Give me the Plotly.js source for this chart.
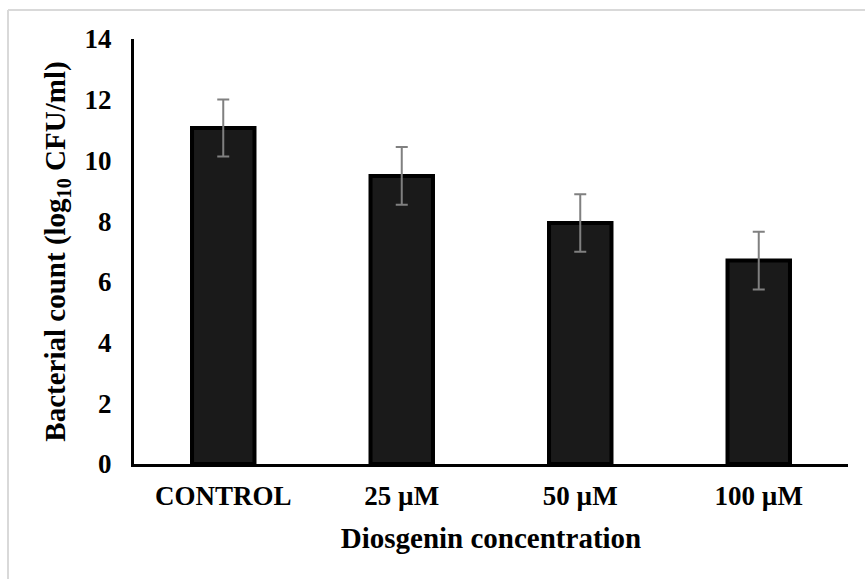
<!DOCTYPE html>
<html>
<head>
<meta charset="utf-8">
<script src="https://cdn.plot.ly/plotly-3.0.1.min.js"></script>
<style>html,body{margin:0;padding:0;background:#fff;}#chart{width:865px;height:579px;}</style>
</head>
<body>
<div id="chart"></div>
<script>
const categories = ["CONTROL", "25 µM", "50 µM", "100 µM"];
const counts = [11.07, 9.49, 7.94, 6.70];
const errors = [0.94, 0.95, 0.95, 0.95];

const W = 865, H = 579;
const L = 134, R = 17, T = 39, B = 115;
const pw = W - L - R, ph = H - T - B;
const bx = (8 - L) / pw;
const by = 1 + (T - 10) / ph;

const font = "Liberation Serif, Times New Roman, serif";

Plotly.newPlot("chart", [{
  type: "bar",
  x: categories,
  y: counts,
  width: 0.35,
  marker: {color: "#1a1a1a", line: {color: "#000000", width: 4}},
  error_y: {type: "data", array: errors, visible: true, color: "#808080", thickness: 2, width: 6},
  hoverinfo: "none"
}], {
  width: W, height: H,
  margin: {l: L, r: R, t: T, b: B, pad: 0},
  paper_bgcolor: "#ffffff",
  plot_bgcolor: "#ffffff",
  showlegend: false,
  font: {family: font, color: "#000000"},
  xaxis: {
    type: "category",
    showline: true, linecolor: "#000000", linewidth: 3,
    ticks: "", showgrid: false, zeroline: false,
    tickfont: {family: font, size: 27, color: "#000", weight: "bold"},
    ticklabelstandoff: 6,
    title: {text: "<b>Diosgenin concentration</b>", font: {family: font, size: 29, color: "#000"}, standoff: 18}
  },
  yaxis: {
    range: [0, 14], dtick: 2, tick0: 0,
    showline: true, linecolor: "#000000", linewidth: 3,
    ticks: "", showgrid: false, zeroline: false,
    tickfont: {family: font, size: 27, color: "#000", weight: "bold"},
    ticklabelstandoff: 14,
    title: {text: "<b>Bacterial count (log<sub>10</sub> CFU/ml)</b>", font: {family: font, size: 29, color: "#000"}, standoff: 11}
  },
  shapes: [
    {type: "line", xref: "paper", yref: "paper", x0: bx, x1: bx, y0: -0.4, y1: by, line: {color: "#d9d9d9", width: 2}},
    {type: "line", xref: "paper", yref: "paper", x0: bx, x1: 1.2, y0: by, y1: by, line: {color: "#d9d9d9", width: 2}}
  ]
}, {displayModeBar: false, staticPlot: true});
</script>
</body>
</html>
